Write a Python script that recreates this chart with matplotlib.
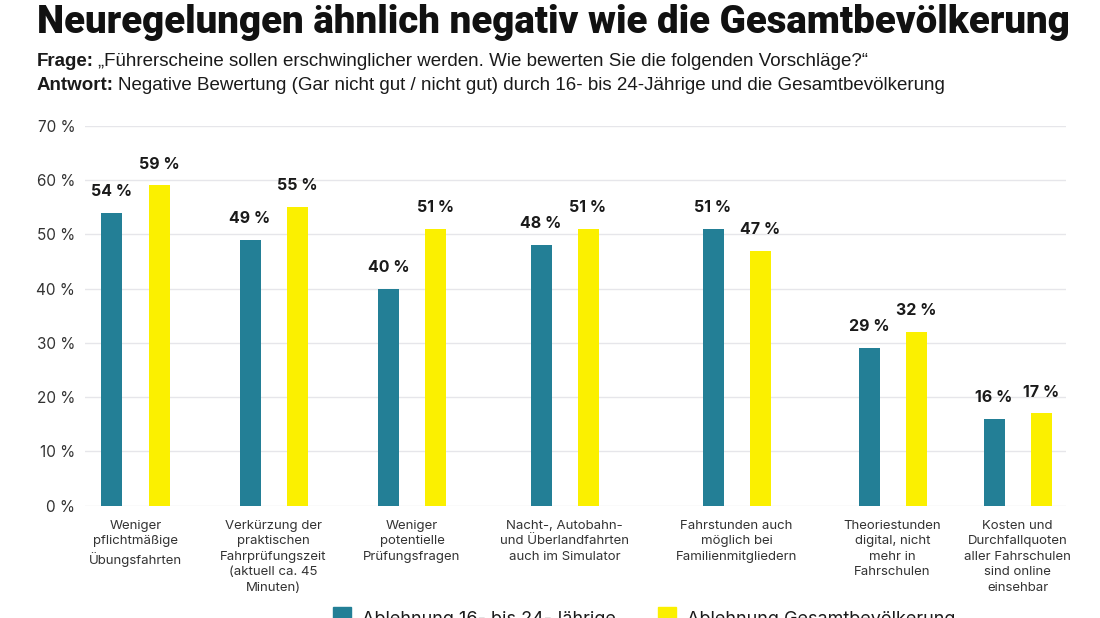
import matplotlib
matplotlib.use("Agg")
import matplotlib.pyplot as plt
from matplotlib.patches import Rectangle

categories = [
    "Weniger\npflichtmäßige\nÜbungsfahrten",
    "Verkürzung der\npraktischen\nFahrprüfungszeit\n(aktuell ca. 45\nMinuten)",
    "Weniger\npotentielle\nPrüfungsfragen",
    "Nacht-, Autobahn-\nund Überlandfahrten\nauch im Simulator",
    "Fahrstunden auch\nmöglich bei\nFamilienmitgliedern",
    "Theoriestunden\ndigital, nicht\nmehr in\nFahrschulen",
    "Kosten und\nDurchfallquoten\naller Fahrschulen\nsind online\neinsehbar",
]
jung = [54, 49, 40, 48, 51, 29, 16]
gesamt = [59, 55, 51, 51, 47, 32, 17]
series_names = ["Ablehnung 16- bis 24-Jährige", "Ablehnung Gesamtbevölkerung"]
yticks = [0, 10, 20, 30, 40, 50, 60, 70]

title = "Neuregelungen ähnlich negativ wie die Gesamtbevölkerung"
frage = "„Führerscheine sollen erschwinglicher werden. Wie bewerten Sie die folgenden Vorschläge?“"
antwort = "Negative Bewertung (Gar nicht gut / nicht gut) durch 16- bis 24-Jährige und die Gesamtbevölkerung"

# layout: group centres in pixel units of the x axis (uneven, as in the original)
group_x = [135.5, 273.5, 412, 564.5, 736.5, 892.5, 1017.5]
bar_w = 21
off = 23.5

teal = "#237f96"
yellow = "#fbf000"
txt = "#1a1a1a"

W, H = 1100, 618
fig = plt.figure(figsize=(W / 100, H / 100), dpi=100)
left, right, bottom, top = 85, 1066, 505.7, 125.7
ax = fig.add_axes([left / W, 1 - bottom / H, (right - left) / W, (bottom - top) / H])
rend = fig.canvas.get_renderer()

tfont = ["Roboto", "DejaVu Sans"]
sfont = ["Liberation Sans", "DejaVu Sans"]
bfont = ["Inter", "DejaVu Sans"]

xa = [x - off for x in group_x]
xb = [x + off for x in group_x]
ax.bar(xa, jung, width=bar_w, color=teal, zorder=3)
ax.bar(xb, gesamt, width=bar_w, color=yellow, zorder=3)

for x, v in zip(xa, jung):
    ax.annotate(f"{v} %", (x, v), xytext=(0, 10), textcoords="offset points",
                ha="center", va="bottom", fontsize=11.5, fontweight="bold",
                color=txt, family=bfont)
for x, v in zip(xb, gesamt):
    ax.annotate(f"{v} %", (x, v), xytext=(0, 10), textcoords="offset points",
                ha="center", va="bottom", fontsize=11.5, fontweight="bold",
                color=txt, family=bfont)

ax.set_xlim(left, right)
ax.set_ylim(0, 70)
ax.set_yticks(yticks)
ax.set_yticklabels([f"{t} %" for t in yticks], family=bfont, fontsize=11, color="#333333")
ax.set_xticks(group_x)
ax.set_xticklabels(categories, family=bfont, fontsize=9.5, color="#333333",
                   linespacing=1.4)
ax.tick_params(axis="both", length=0)
ax.tick_params(axis="x", pad=10)
ax.tick_params(axis="y", pad=7)
ax.grid(axis="y", color="#e6e6ea", linewidth=1, zorder=0)
for s in ax.spines.values():
    s.set_visible(False)

# title, shrunk until it spans the same width as in the original
t = fig.text(37 / W, 1 - 33 / H, title, fontsize=30, fontweight="heavy",
             family=tfont, color="#111111", va="baseline")
while t.get_window_extent(rend).width > 1041:
    t.set_fontsize(t.get_fontsize() - 0.25)

def label_line(y, bold, rest, size):
    b = fig.text(37 / W, 1 - y / H, bold, fontsize=size, fontweight="bold",
                 family=sfont, color=txt, va="center")
    x1 = b.get_window_extent(rend).x1
    fig.text((x1 + 4) / W, 1 - y / H, rest, fontsize=size, family=sfont,
             color=txt, va="center")

label_line(62, "Frage:", frage, 13.5)
label_line(85, "Antwort:", antwort, 13.5)

# legend, partly cut at the bottom edge like the original
for sx, tx, col, name in [(333, 362, teal, series_names[0]), (658, 687, yellow, series_names[1])]:
    fig.patches.append(Rectangle((sx / W, 1 - 626 / H), 18 / W, 19 / H,
                                 transform=fig.transFigure, color=col))
    fig.text(tx / W, 1 - 619 / H, name, fontsize=13, family=bfont, color=txt, va="center")

fig.savefig("out.png", dpi=100)
